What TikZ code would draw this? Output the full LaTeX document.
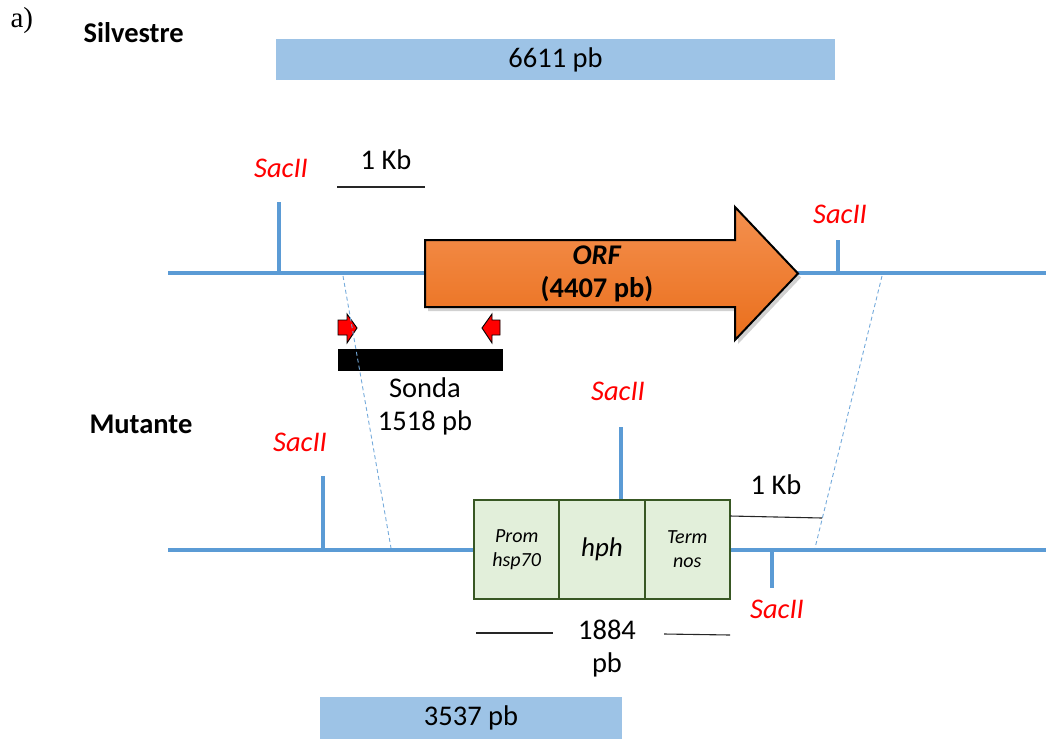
\documentclass[tikz,border=0pt]{standalone}
\usepackage{fontspec}
\setmainfont{Carlito}
\newfontfamily\labelserif{Liberation Serif}
\definecolor{dna}{HTML}{5B9BD5}
\definecolor{band}{HTML}{9DC3E6}
\definecolor{orftop}{HTML}{F4904F}
\definecolor{orfbot}{HTML}{EA6F1C}
\definecolor{cassfill}{HTML}{E2EFDA}
\definecolor{cassline}{HTML}{385723}
\begin{document}
\begin{tikzpicture}[x=1pt,y=-1pt,
  font=\fontsize{28.5}{33}\selectfont,
  dnaline/.style={draw=dna, line width=4.5pt},
  cutsite/.style={draw=dna, line width=4.5pt},
  sitelabel/.style={text=red, font=\fontsize{28.5}{33}\selectfont\itshape},
  scalebar/.style={draw=black!85, line width=1.1pt},
  bandbox/.style={fill=band, draw=none, inner sep=0pt},
  homol/.style={draw=dna!85, line width=0.9pt, dash pattern=on 4pt off 3pt},
  primer/.style={fill=red, draw=black, line width=0.9pt, line join=miter},
  cassette/.style={draw=cassline, fill=cassfill, line width=2pt, inner sep=0pt,
    outer sep=0pt, minimum height=99pt, align=center},
  smallit/.style={font=\fontsize{20}{24}\selectfont\itshape},
  title/.style={font=\fontsize{28.5}{33}\selectfont\bfseries, anchor=west}
]
\useasboundingbox (0,0) rectangle (1046,739);

% panel tag and genotype titles
\node[anchor=west, font=\labelserif\fontsize{29}{33}\selectfont] (tag) at (7,21) {a)};
\node[title] (wt) at (80,33) {Silvestre};
\node[title] (mut) at (86,424) {Mutante};

% expected hybridisation fragments
\node[bandbox, minimum width=559pt, minimum height=41pt] (wtband) at (555.5,59.5) {6611 pb};
\node[bandbox, minimum width=302pt, minimum height=42pt] (mutband) at (471,718) {3537 pb};

% ---- wild-type locus ----
\coordinate (wtL) at (168,273);
\coordinate (wtR) at (1046,273);
\draw[dnaline] (wtL) -- (wtR);

\coordinate (wtS1) at (279,273);
\coordinate (wtS1t) at (279,202);
\draw[cutsite] (wtS1) -- (wtS1t);
\node[sitelabel] (wtS1l) at (281,168) {SacII};

\coordinate (wtS2) at (838,273);
\coordinate (wtS2t) at (838,240);
\draw[cutsite] (wtS2) -- (wtS2t);
\node[sitelabel] (wtS2l) at (840,214) {SacII};

% scale bar
\coordinate (kbA) at (337,187);
\coordinate (kbB) at (425,187);
\draw[scalebar] (kbA) -- (kbB);
\node (kb1) at (386,160) {1 Kb};

% ORF arrow
\fill[black, opacity=0.18] (428,244) -- (738,244) -- (738,211) -- (801,277.5) -- (738,344) -- (738,311) -- (428,311) -- cycle;
\shadedraw[top color=orftop, bottom color=orfbot, draw=black, line width=2pt, line join=miter]
  (425,240) -- (735,240) -- (735,207) -- (798,273.5) -- (735,340) -- (735,307) -- (425,307) -- cycle;
\node[align=center, font=\fontsize{28.5}{33}\selectfont\bfseries] (orf) at (597,274)
  {\textit{ORF}\\(4407 pb)};

% primers and probe
\draw[primer] (338,320) -- (347,320) -- (347,314) -- (357,328) -- (347,343) -- (347,335) -- (338,335) -- cycle;
\draw[primer] (500,320) -- (492,320) -- (492,314) -- (482,328) -- (492,343) -- (492,335) -- (500,335) -- cycle;
\node[fill=black, inner sep=0pt, minimum width=165pt, minimum height=22pt] (probe) at (420.5,359.5) {};
\node[align=center] (sonda) at (425,406) {Sonda\\1518 pb};

% ---- mutant locus ----
\coordinate (muL) at (168,550);
\coordinate (muR) at (1046,550);
\draw[dnaline] (muL) -- (muR);

\coordinate (muS1) at (323,550);
\coordinate (muS1t) at (323,476);
\draw[cutsite] (muS1) -- (muS1t);
\node[sitelabel] (muS1l) at (300,442) {SacII};

\coordinate (muS2) at (621,499);
\coordinate (muS2t) at (621,427);
\draw[cutsite] (muS2) -- (muS2t);
\node[sitelabel] (muS2l) at (618,391) {SacII};

\coordinate (muS3) at (772,550);
\coordinate (muS3t) at (772,588);
\draw[cutsite] (muS3) -- (muS3t);
\node[sitelabel] (muS3l) at (777,609) {SacII};

% homologous flanks
\coordinate (hA1) at (343,276);
\coordinate (hA2) at (391,548);
\coordinate (hB1) at (882,276);
\coordinate (hB2) at (815,548);
\draw[homol] (hA1) -- (hA2);
\draw[homol] (hB1) -- (hB2);

% hygromycin cassette
\node[cassette, minimum width=85.3pt, smallit] (prom) at (516.7,549.5) {Prom\\hsp70};
\node[cassette, minimum width=85.3pt, font=\fontsize{27}{32}\selectfont\itshape, anchor=west] (hph) at (prom.east) {hph};
\node[cassette, minimum width=85.3pt, smallit, anchor=west] (term) at (hph.east) {Term\\nos};

% scale bar
\coordinate (kbC) at (730,516);
\coordinate (kbD) at (822,518);
\draw[scalebar] (kbC) -- (kbD);
\node (kb2) at (776,485) {1 Kb};

% cassette length
\node[align=center] (len) at (607,649) {1884\\pb};
\coordinate (lenA) at (476,633);
\coordinate (lenB) at (553,633);
\coordinate (lenC) at (664,634);
\coordinate (lenD) at (730,635);
\draw[scalebar] (lenA) -- (lenB);
\draw[scalebar] (lenC) -- (lenD);
\end{tikzpicture}
\end{document}
